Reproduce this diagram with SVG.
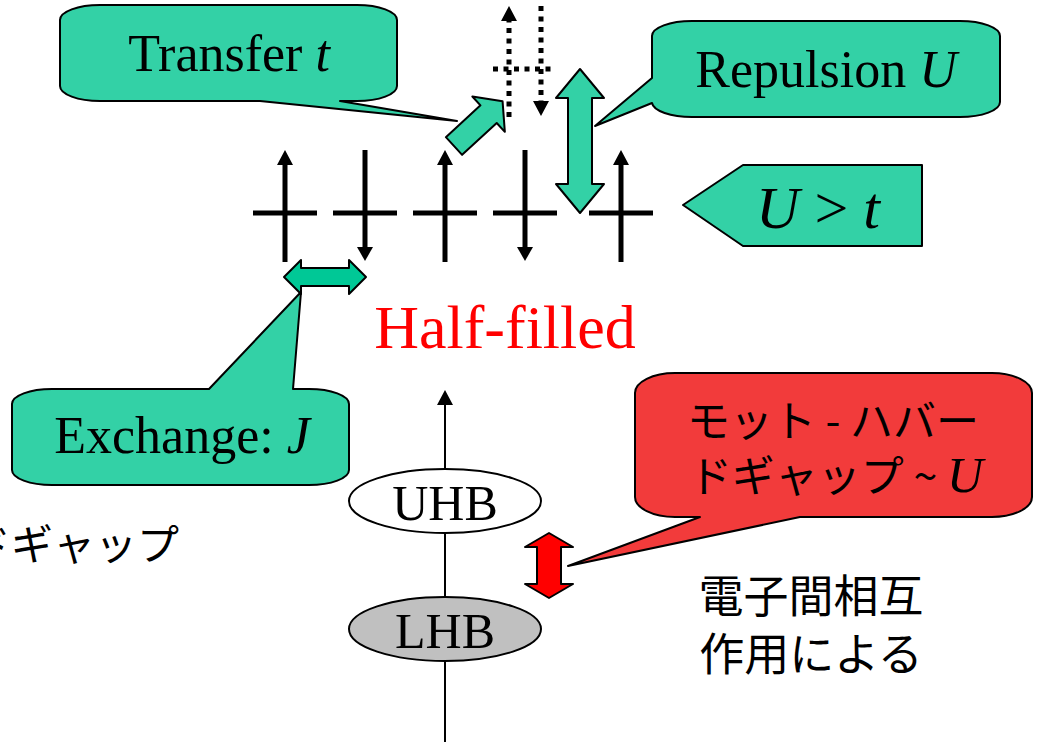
<svg xmlns="http://www.w3.org/2000/svg" width="1048" height="742" viewBox="0 0 1048 742">
<style>
.serif{font-family:"Liberation Serif","Times New Roman",serif;fill:#000}
.it{font-style:italic}
.jp{font-family:"Noto Sans CJK JP",sans-serif;fill:#000}
.callout{fill:#33D1A6;stroke:#000;stroke-width:2;stroke-linejoin:round}
.redcall{fill:#F23B3B;stroke:#000;stroke-width:2;stroke-linejoin:round}
.spin{stroke:#000;stroke-width:5;fill:none}
.dot{stroke:#000;stroke-width:5;fill:none;stroke-dasharray:5 5.5}
.head{fill:#000}
</style>
<rect width="1048" height="742" fill="#fff"/>

<g id="connectors">
  <line x1="445" y1="742" x2="445" y2="404" stroke="#000" stroke-width="2"/>
  <polygon class="head" points="437,405 453,405 445,390"/>
  <g id="sites">
    <line class="spin" x1="253" y1="213" x2="317" y2="213"/>
    <line class="spin" x1="333" y1="213" x2="397" y2="213"/>
    <line class="spin" x1="413" y1="213" x2="477" y2="213"/>
    <line class="spin" x1="493" y1="213" x2="557" y2="213"/>
    <line class="spin" x1="589" y1="213" x2="653" y2="213"/>
    <line class="spin" x1="285" y1="262" x2="285" y2="162"/>
    <polygon class="head" points="277,165 293,165 285,150"/>
    <line class="spin" x1="365" y1="150" x2="365" y2="249"/>
    <polygon class="head" points="357,247 373,247 365,261"/>
    <line class="spin" x1="445" y1="262" x2="445" y2="162"/>
    <polygon class="head" points="437,165 453,165 445,150"/>
    <line class="spin" x1="525" y1="150" x2="525" y2="249"/>
    <polygon class="head" points="517,247 533,247 525,261"/>
    <line class="spin" x1="621" y1="262" x2="621" y2="162"/>
    <polygon class="head" points="613,165 629,165 621,150"/>
  </g>
  <g id="virtual">
    <line class="dot" x1="509" y1="117" x2="509" y2="20"/>
    <polygon class="head" points="501,21 517,21 509,6"/>
    <line class="dot" x1="541" y1="6" x2="541" y2="101"/>
    <polygon class="head" points="533,101 549,101 541,116"/>
    <line class="dot" x1="493" y1="69" x2="553" y2="69"/>
  </g>
  <polygon class="callout" transform="translate(454,146) rotate(-42.6)" points="0,-12 47,-12 47,-24 66,0 47,24 47,12 0,12"/>
  <polygon class="callout" points="580,69 604,98 592,98 592,184 604,184 580,213 556,184 568,184 568,98 556,98"/>
  <polygon fill="#00C896" stroke="#000" stroke-width="2" stroke-linejoin="round" points="284,277 301,260 301,268 349,268 349,260 366,277 349,294 349,286 301,286 301,294"/>
  <polygon fill="#FF0000" stroke="#000" stroke-width="2" stroke-linejoin="round" points="549,533 573,547 561,547 561,584 573,584 549,598 525,584 537,584 537,547 525,547"/>
</g>

<g id="transfer">
  <path class="callout" d="M100,5 H357 A40,15 0 0 1 397,20 V86 A40,15 0 0 1 357,101 H340 L457,121 L260,101 H100 A40,15 0 0 1 60,86 V20 A40,15 0 0 1 100,5 Z"/>
  <text class="serif" x="229" y="71" font-size="52" text-anchor="middle">Transfer <tspan class="it">t</tspan></text>
</g>

<g id="repulsion">
  <path class="callout" d="M692,21 H960 A40,15 0 0 1 1000,36 V102 A40,15 0 0 1 960,117 H692 A40,15 0 0 1 652,103 L595,126 L652,78 V36 A40,15 0 0 1 692,21 Z"/>
  <text class="serif" x="826" y="87" font-size="52" text-anchor="middle">Repulsion <tspan class="it">U</tspan></text>
</g>

<g id="condition">
  <path class="callout" d="M683,205 L743,165 H922 V246 H743 Z"/>
  <text class="serif" x="818" y="228" font-size="60" text-anchor="middle"><tspan class="it">U</tspan> &gt; <tspan class="it">t</tspan></text>
</g>

<g id="exchange">
  <path class="callout" d="M52,389 H209 L301,292 L293,389 H309 A40,15 0 0 1 349,404 V470 A40,15 0 0 1 309,485 H52 A40,15 0 0 1 12,470 V404 A40,15 0 0 1 52,389 Z"/>
  <text class="serif" x="182" y="453" font-size="52" text-anchor="middle">Exchange: <tspan class="it">J</tspan></text>
</g>

<g id="halffilled">
  <text x="505" y="348" font-size="62" text-anchor="middle" style="font-family:'Liberation Serif','Times New Roman',serif;fill:#FF0000">Half-filled</text>
</g>

<g id="uhb">
  <ellipse cx="445" cy="501" rx="96" ry="32" fill="#fff" stroke="#000" stroke-width="2"/>
  <text class="serif" x="445" y="520" font-size="50" text-anchor="middle">UHB</text>
</g>

<g id="lhb">
  <ellipse cx="445" cy="629" rx="96" ry="32" fill="#C0C0C0" stroke="#000" stroke-width="2"/>
  <text class="serif" x="445" y="648" font-size="50" text-anchor="middle">LHB</text>
</g>

<g id="mottgap">
  <path class="redcall" d="M675,373 H992 A40,20 0 0 1 1032,393 V497 A40,20 0 0 1 992,517 H800 L568,566 L700,517 H675 A40,20 0 0 1 635,497 V393 A40,20 0 0 1 675,373 Z"/>
  <text class="jp" x="833" y="437" font-size="43" text-anchor="middle">モット - ハバー</text>
  <text class="jp" x="836" y="492" font-size="43" text-anchor="middle">ドギャップ ~ <tspan class="it" font-size="50" style="font-family:'Liberation Serif','Times New Roman',serif">U</tspan></text>
</g>

<g id="leftgap">
  <text class="jp" x="179" y="560" font-size="42" text-anchor="end">ドギャップ</text>
</g>

<g id="interaction">
  <text class="jp" x="811" y="613" font-size="45" text-anchor="middle">電子間相互</text>
  <text class="jp" x="811" y="671" font-size="45" text-anchor="middle">作用による</text>
</g>
</svg>
